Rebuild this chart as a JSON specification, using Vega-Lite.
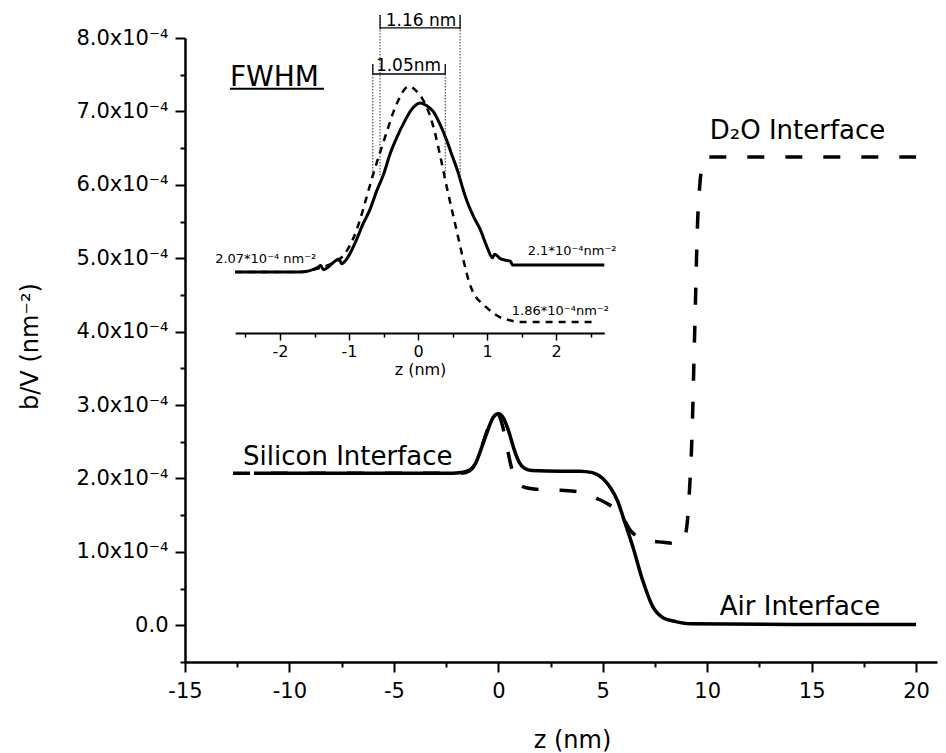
{
  "$schema": "https://vega.github.io/schema/vega-lite/v6.json",
  "width": 752,
  "height": 624,
  "autosize": "none",
  "padding": {"left": 185, "top": 38, "right": 9, "bottom": 91},
  "background": "white",
  "config": {
    "view": {"stroke": null},
    "font": "DejaVu Sans",
    "axis": {
      "grid": false,
      "domainColor": "black",
      "tickColor": "black",
      "labelColor": "black",
      "titleColor": "black",
      "labelFont": "DejaVu Sans",
      "titleFont": "DejaVu Sans",
      "titleFontWeight": "normal",
      "labelFlush": false,
      "labelOverlap": false
    }
  },
  "datasets": {
    "air": [
      {"z": -11.7, "b": 2.07e-4}, {"z": -6, "b": 2.07e-4}, {"z": -2.2, "b": 2.07e-4},
      {"z": -1.8, "b": 2.08e-4}, {"z": -1.4, "b": 2.11e-4}, {"z": -1.1, "b": 2.2e-4},
      {"z": -0.8, "b": 2.42e-4}, {"z": -0.5, "b": 2.66e-4}, {"z": -0.25, "b": 2.83e-4},
      {"z": 0, "b": 2.88e-4}, {"z": 0.25, "b": 2.82e-4}, {"z": 0.5, "b": 2.64e-4},
      {"z": 0.75, "b": 2.4e-4}, {"z": 1.0, "b": 2.22e-4}, {"z": 1.25, "b": 2.14e-4},
      {"z": 1.6, "b": 2.11e-4}, {"z": 3.0, "b": 2.1e-4}, {"z": 3.9, "b": 2.1e-4},
      {"z": 4.5, "b": 2.08e-4}, {"z": 5.0, "b": 2.0e-4}, {"z": 5.35, "b": 1.88e-4},
      {"z": 5.7, "b": 1.7e-4}, {"z": 6.0, "b": 1.45e-4}, {"z": 6.45, "b": 1.06e-4},
      {"z": 6.9, "b": 0.62e-4}, {"z": 7.4, "b": 0.25e-4}, {"z": 7.9, "b": 0.1e-4},
      {"z": 8.5, "b": 0.05e-4}, {"z": 9.2, "b": 0.02e-4}, {"z": 14, "b": 0.01e-4},
      {"z": 20, "b": 0.01e-4}
    ],
    "d2o": [
      {"z": -12.7, "b": 2.07e-4}, {"z": -6, "b": 2.07e-4}, {"z": -2.2, "b": 2.07e-4},
      {"z": -1.8, "b": 2.07e-4}, {"z": -1.4, "b": 2.1e-4}, {"z": -1.1, "b": 2.2e-4},
      {"z": -0.8, "b": 2.43e-4}, {"z": -0.5, "b": 2.68e-4}, {"z": -0.25, "b": 2.85e-4},
      {"z": -0.05, "b": 2.88e-4}, {"z": 0.2, "b": 2.72e-4}, {"z": 0.4, "b": 2.45e-4},
      {"z": 0.6, "b": 2.18e-4}, {"z": 0.8, "b": 2.0e-4}, {"z": 1.0, "b": 1.92e-4},
      {"z": 1.4, "b": 1.87e-4}, {"z": 2.0, "b": 1.85e-4}, {"z": 3.0, "b": 1.84e-4},
      {"z": 3.8, "b": 1.82e-4}, {"z": 4.3, "b": 1.78e-4}, {"z": 4.7, "b": 1.73e-4},
      {"z": 5.2, "b": 1.66e-4}, {"z": 5.7, "b": 1.56e-4}, {"z": 6.0, "b": 1.45e-4},
      {"z": 6.3, "b": 1.3e-4}, {"z": 6.7, "b": 1.2e-4}, {"z": 7.1, "b": 1.16e-4},
      {"z": 7.9, "b": 1.13e-4}, {"z": 8.6, "b": 1.11e-4}, {"z": 8.85, "b": 1.16e-4},
      {"z": 9.02, "b": 1.34e-4}, {"z": 9.16, "b": 1.89e-4}, {"z": 9.26, "b": 2.49e-4},
      {"z": 9.4, "b": 4.0e-4}, {"z": 9.55, "b": 5.57e-4}, {"z": 9.64, "b": 5.98e-4},
      {"z": 9.75, "b": 6.25e-4}, {"z": 9.98, "b": 6.38e-4}, {"z": 20, "b": 6.38e-4}
    ],
    "insetAir": [
      {"z": -2.65, "b": 2.07e-4}, {"z": -1.71, "b": 2.07e-4}, {"z": -1.45, "b": 2.09e-4},
      {"z": -1.41, "b": 2.097e-4}, {"z": -1.37, "b": 2.08e-4}, {"z": -1.14, "b": 2.125e-4},
      {"z": -1.11, "b": 2.105e-4}, {"z": -0.99, "b": 2.145e-4}, {"z": -0.9, "b": 2.2e-4},
      {"z": -0.8, "b": 2.27e-4}, {"z": -0.7, "b": 2.33e-4}, {"z": -0.6, "b": 2.41e-4},
      {"z": -0.5, "b": 2.48e-4}, {"z": -0.4, "b": 2.57e-4}, {"z": -0.3, "b": 2.64e-4},
      {"z": -0.2, "b": 2.7e-4}, {"z": -0.1, "b": 2.75e-4}, {"z": 0.03, "b": 2.78e-4},
      {"z": 0.12, "b": 2.77e-4}, {"z": 0.22, "b": 2.745e-4}, {"z": 0.32, "b": 2.69e-4},
      {"z": 0.42, "b": 2.62e-4}, {"z": 0.5, "b": 2.555e-4}, {"z": 0.58, "b": 2.49e-4},
      {"z": 0.65, "b": 2.42e-4}, {"z": 0.72, "b": 2.36e-4}, {"z": 0.81, "b": 2.3e-4},
      {"z": 0.9, "b": 2.25e-4}, {"z": 1.0, "b": 2.175e-4}, {"z": 1.08, "b": 2.13e-4},
      {"z": 1.11, "b": 2.145e-4}, {"z": 1.2, "b": 2.125e-4}, {"z": 1.34, "b": 2.115e-4},
      {"z": 1.37, "b": 2.1e-4}, {"z": 1.65, "b": 2.1e-4}, {"z": 2.7, "b": 2.1e-4}
    ],
    "insetD2O": [
      {"z": -2.65, "b": 2.07e-4}, {"z": -1.71, "b": 2.07e-4}, {"z": -1.45, "b": 2.085e-4},
      {"z": -1.25, "b": 2.105e-4}, {"z": -1.13, "b": 2.125e-4}, {"z": -1.03, "b": 2.16e-4},
      {"z": -0.94, "b": 2.21e-4}, {"z": -0.84, "b": 2.29e-4}, {"z": -0.74, "b": 2.39e-4},
      {"z": -0.65, "b": 2.48e-4}, {"z": -0.52, "b": 2.6e-4}, {"z": -0.44, "b": 2.67e-4},
      {"z": -0.36, "b": 2.74e-4}, {"z": -0.27, "b": 2.8e-4}, {"z": -0.19, "b": 2.84e-4},
      {"z": -0.12, "b": 2.85e-4}, {"z": -0.04, "b": 2.835e-4}, {"z": 0.06, "b": 2.8e-4},
      {"z": 0.17, "b": 2.73e-4}, {"z": 0.25, "b": 2.65e-4}, {"z": 0.32, "b": 2.56e-4},
      {"z": 0.43, "b": 2.41e-4}, {"z": 0.54, "b": 2.27e-4}, {"z": 0.65, "b": 2.13e-4},
      {"z": 0.75, "b": 2.02e-4}, {"z": 0.84, "b": 1.965e-4}, {"z": 0.94, "b": 1.935e-4},
      {"z": 1.06, "b": 1.905e-4}, {"z": 1.19, "b": 1.88e-4}, {"z": 1.32, "b": 1.868e-4},
      {"z": 1.48, "b": 1.86e-4}, {"z": 2.6, "b": 1.86e-4}
    ],
    "interfaceLabels": [
      {"z": -12.22, "b": 2.19e-4, "text": "Silicon Interface"},
      {"z": 10.6, "b": 0.14e-4, "text": "Air Interface"},
      {"z": 10.12, "b": 6.63e-4, "text": "D₂O Interface"}
    ],
    "fwhmTitle": [{"z": -12.85, "b": 7.35e-4, "text": "FWHM"}],
    "fwhmUnderline": [{"z": -12.85, "z2": -8.35, "b": 7.31e-4}],
    "levelLabels": [
      {"z": -2.94, "b": 2.108e-4, "text": "2.07*10⁻⁴ nm⁻²"},
      {"z": 1.59, "b": 2.141e-4, "text": "2.1*10⁻⁴nm⁻²"},
      {"z": 1.36, "b": 1.889e-4, "text": "1.86*10⁻⁴nm⁻²"}
    ],
    "widthLabels": [
      {"z": 0.043, "b": 3.104e-4, "text": "1.16 nm"},
      {"z": -0.138, "b": 2.915e-4, "text": "1.05nm"}
    ],
    "guides": [
      {"z": -0.55, "b": 3.15e-4, "b2": 2.47e-4},
      {"z": 0.61, "b": 3.15e-4, "b2": 2.457e-4},
      {"z": -0.655, "b": 2.94e-4, "b2": 2.49e-4},
      {"z": 0.395, "b": 2.94e-4, "b2": 2.465e-4}
    ],
    "bars": [
      {"z": -0.55, "z2": 0.61, "b": 3.096e-4},
      {"z": -0.655, "z2": 0.395, "b": 2.902e-4}
    ],
    "barEnds": [
      {"z": -0.55, "b": 3.15e-4, "b2": 3.09e-4},
      {"z": 0.61, "b": 3.15e-4, "b2": 3.09e-4},
      {"z": -0.655, "b": 2.944e-4, "b2": 2.9e-4},
      {"z": 0.395, "b": 2.944e-4, "b2": 2.9e-4}
    ]
  },
  "layer": [
    {
      "layer": [
        {
          "data": {"name": "air"},
          "mark": {"type": "line", "color": "black", "strokeWidth": 3.5, "interpolate": "monotone"},
          "encoding": {
            "x": {
              "field": "z", "type": "quantitative",
              "scale": {"domain": [-15, 21], "nice": false, "zero": false},
              "axis": {
                "orient": "bottom", "values": [-15, -10, -5, 0, 5, 10, 15, 20],
                "tickSize": 10, "tickWidth": 2, "domainWidth": 2.5,
                "labelFontSize": 21, "labelPadding": 8,
                "labelExpr": "replace(datum.label, '−', '-')",
                "title": "z (nm)", "titleFontSize": 24, "titleX": 387, "titleY": 85,
                "titleAlign": "center", "titleBaseline": "alphabetic"
              }
            },
            "y": {
              "field": "b", "type": "quantitative",
              "scale": {"domain": [-0.00005, 0.0008], "nice": false, "zero": false},
              "axis": {
                "orient": "left",
                "values": [0, 0.0001, 0.0002, 0.0003, 0.0004, 0.0005, 0.0006, 0.0007, 0.0008],
                "tickSize": 10, "tickWidth": 2, "domainWidth": 2.5,
                "labelFontSize": 21, "labelPadding": 7,
                "labelExpr": "abs(datum.value) < 1e-9 ? '0.0' : format(datum.value * 1e4, '.1f') + 'x10⁻⁴'",
                "title": "b/V (nm⁻²)", "titleFontSize": 24, "titleAngle": -90,
                "titleX": -155, "titleY": 308, "titleAlign": "center", "titleBaseline": "middle"
              }
            }
          }
        },
        {
          "data": {"name": "d2o"},
          "mark": {"type": "line", "color": "black", "strokeWidth": 3.5, "strokeDash": [17, 21], "interpolate": "monotone"},
          "encoding": {
            "x": {
              "field": "z", "type": "quantitative",
              "scale": {"domain": [-15, 21], "nice": false, "zero": false},
              "axis": {
                "orient": "bottom", "values": [-12.5, -7.5, -2.5, 2.5, 7.5, 12.5, 17.5],
                "tickSize": 5, "tickWidth": 2, "labels": false, "domain": false, "title": null
              }
            },
            "y": {
              "field": "b", "type": "quantitative",
              "scale": {"domain": [-0.00005, 0.0008], "nice": false, "zero": false},
              "axis": {
                "orient": "left",
                "values": [-0.00005, 0.00005, 0.00015, 0.00025, 0.00035, 0.00045, 0.00055, 0.00065, 0.00075],
                "tickSize": 5, "tickWidth": 2, "labels": false, "domain": false, "title": null
              }
            }
          }
        },
        {
          "data": {"name": "interfaceLabels"},
          "mark": {"type": "text", "font": "DejaVu Sans", "fontSize": 26, "align": "left", "baseline": "alphabetic", "color": "black"},
          "encoding": {
            "x": {"field": "z", "type": "quantitative", "scale": {"domain": [-15, 21], "nice": false, "zero": false}, "axis": null},
            "y": {"field": "b", "type": "quantitative", "scale": {"domain": [-0.00005, 0.0008], "nice": false, "zero": false}, "axis": null},
            "text": {"field": "text"}
          }
        },
        {
          "data": {"name": "fwhmTitle"},
          "mark": {"type": "text", "font": "DejaVu Sans", "fontSize": 28, "align": "left", "baseline": "alphabetic", "color": "black"},
          "encoding": {
            "x": {"field": "z", "type": "quantitative", "scale": {"domain": [-15, 21], "nice": false, "zero": false}, "axis": null},
            "y": {"field": "b", "type": "quantitative", "scale": {"domain": [-0.00005, 0.0008], "nice": false, "zero": false}, "axis": null},
            "text": {"field": "text"}
          }
        },
        {
          "data": {"name": "fwhmUnderline"},
          "mark": {"type": "rule", "color": "black", "strokeWidth": 2},
          "encoding": {
            "x": {"field": "z", "type": "quantitative", "scale": {"domain": [-15, 21], "nice": false, "zero": false}, "axis": null},
            "x2": {"field": "z2"},
            "y": {"field": "b", "type": "quantitative", "scale": {"domain": [-0.00005, 0.0008], "nice": false, "zero": false}, "axis": null}
          }
        }
      ],
      "resolve": {"axis": {"x": "independent", "y": "independent"}}
    },
    {
      "layer": [
        {
          "data": {"name": "insetAir"},
          "mark": {"type": "line", "color": "black", "strokeWidth": 3, "interpolate": "monotone"},
          "encoding": {
            "x": {
              "field": "z", "type": "quantitative",
              "scale": {"domain": [-2.65, 2.7], "range": [50.15, 419.3], "nice": false, "zero": false},
              "axis": {
                "orient": "bottom", "offset": -329, "values": [-2, -1, 0, 1, 2],
                "tickSize": 7, "tickWidth": 1.5, "domainWidth": 2,
                "labelFontSize": 16, "labelPadding": 3,
                "labelExpr": "replace(datum.label, '−', '-')",
                "title": "z (nm)", "titleFontSize": 16, "titleX": 235, "titleY": 41,
                "titleAlign": "center", "titleBaseline": "alphabetic"
              }
            },
            "y": {
              "field": "b", "type": "quantitative",
              "scale": {"domain": [0.00018, 0.00029], "range": [298.3, 36.5], "nice": false, "zero": false},
              "axis": null
            }
          }
        },
        {
          "data": {"name": "insetD2O"},
          "mark": {"type": "line", "color": "black", "strokeWidth": 2.5, "strokeDash": [7, 6], "interpolate": "monotone"},
          "encoding": {
            "x": {
              "field": "z", "type": "quantitative",
              "scale": {"domain": [-2.65, 2.7], "range": [50.15, 419.3], "nice": false, "zero": false},
              "axis": {
                "orient": "bottom", "offset": -329, "values": [-2.5, -1.5, -0.5, 0.5, 1.5, 2.5],
                "tickSize": 4, "tickWidth": 1.5, "labels": false, "domain": false, "title": null
              }
            },
            "y": {
              "field": "b", "type": "quantitative",
              "scale": {"domain": [0.00018, 0.00029], "range": [298.3, 36.5], "nice": false, "zero": false},
              "axis": null
            }
          }
        },
        {
          "data": {"name": "guides"},
          "mark": {"type": "rule", "color": "#333333", "strokeWidth": 1, "strokeDash": [1.5, 1.5]},
          "encoding": {
            "x": {"field": "z", "type": "quantitative", "scale": {"domain": [-2.65, 2.7], "range": [50.15, 419.3], "nice": false, "zero": false}, "axis": null},
            "y": {"field": "b", "type": "quantitative", "scale": {"domain": [0.00018, 0.00029], "range": [298.3, 36.5], "nice": false, "zero": false}, "axis": null},
            "y2": {"field": "b2"}
          }
        },
        {
          "data": {"name": "bars"},
          "mark": {"type": "rule", "color": "black", "strokeWidth": 1.3},
          "encoding": {
            "x": {"field": "z", "type": "quantitative", "scale": {"domain": [-2.65, 2.7], "range": [50.15, 419.3], "nice": false, "zero": false}, "axis": null},
            "x2": {"field": "z2"},
            "y": {"field": "b", "type": "quantitative", "scale": {"domain": [0.00018, 0.00029], "range": [298.3, 36.5], "nice": false, "zero": false}, "axis": null}
          }
        },
        {
          "data": {"name": "barEnds"},
          "mark": {"type": "rule", "color": "black", "strokeWidth": 1.2},
          "encoding": {
            "x": {"field": "z", "type": "quantitative", "scale": {"domain": [-2.65, 2.7], "range": [50.15, 419.3], "nice": false, "zero": false}, "axis": null},
            "y": {"field": "b", "type": "quantitative", "scale": {"domain": [0.00018, 0.00029], "range": [298.3, 36.5], "nice": false, "zero": false}, "axis": null},
            "y2": {"field": "b2"}
          }
        },
        {
          "data": {"name": "levelLabels"},
          "mark": {"type": "text", "font": "DejaVu Sans", "fontSize": 13, "align": "left", "baseline": "alphabetic", "color": "black"},
          "encoding": {
            "x": {"field": "z", "type": "quantitative", "scale": {"domain": [-2.65, 2.7], "range": [50.15, 419.3], "nice": false, "zero": false}, "axis": null},
            "y": {"field": "b", "type": "quantitative", "scale": {"domain": [0.00018, 0.00029], "range": [298.3, 36.5], "nice": false, "zero": false}, "axis": null},
            "text": {"field": "text"}
          }
        },
        {
          "data": {"name": "widthLabels"},
          "mark": {"type": "text", "font": "DejaVu Sans", "fontSize": 17, "align": "center", "baseline": "alphabetic", "color": "black"},
          "encoding": {
            "x": {"field": "z", "type": "quantitative", "scale": {"domain": [-2.65, 2.7], "range": [50.15, 419.3], "nice": false, "zero": false}, "axis": null},
            "y": {"field": "b", "type": "quantitative", "scale": {"domain": [0.00018, 0.00029], "range": [298.3, 36.5], "nice": false, "zero": false}, "axis": null},
            "text": {"field": "text"}
          }
        }
      ],
      "resolve": {"axis": {"x": "independent", "y": "independent"}}
    }
  ],
  "resolve": {
    "scale": {"x": "independent", "y": "independent"},
    "axis": {"x": "independent", "y": "independent"}
  }
}
